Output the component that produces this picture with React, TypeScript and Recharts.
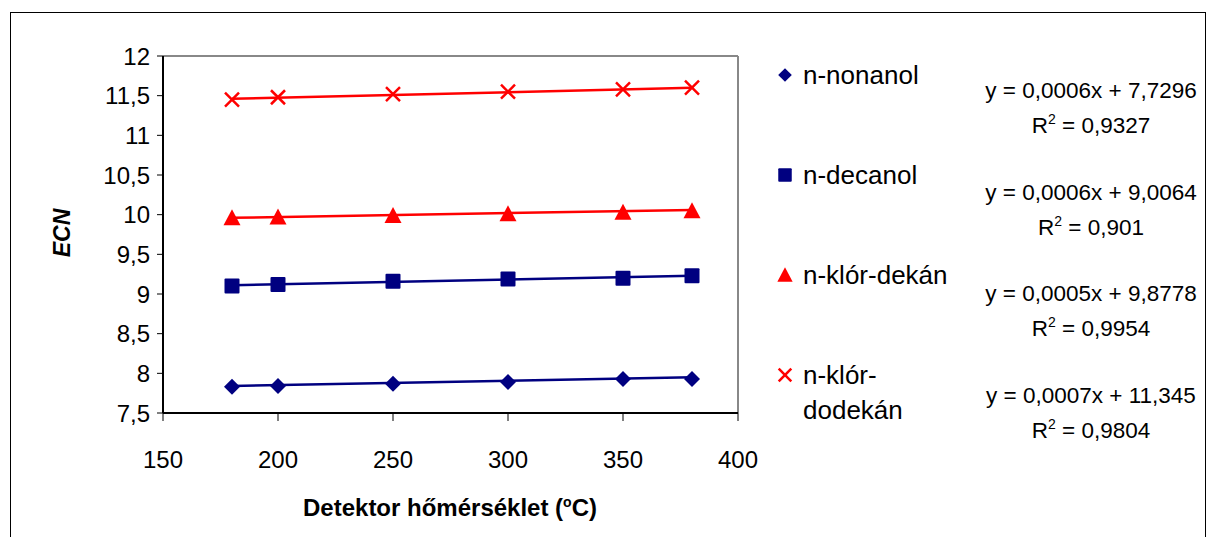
import {
  ComposedChart,
  Legend,
  Line,
  ReferenceLine,
  Scatter,
  XAxis,
  YAxis,
} from "recharts";

const temps = [180, 200, 250, 300, 350, 380];
const nonanol = [7.83, 7.84, 7.87, 7.89, 7.93, 7.93];
const decanol = [9.1, 9.12, 9.16, 9.19, 9.2, 9.23];
const klorDekan = [9.96, 9.97, 9.99, 10.01, 10.03, 10.05];
const klorDodekan = [11.45, 11.48, 11.52, 11.55, 11.58, 11.6];

// trendline ends
const trendX = [180, 380];
const nonanolTrend = [7.84, 7.95];
const decanolTrend = [9.11, 9.23];
const klorDekanTrend = [9.96, 10.06];
const klorDodekanTrend = [11.46, 11.6];

const xTicks = [150, 200, 250, 300, 350, 400];
const yTicks = [7.5, 8, 8.5, 9, 9.5, 10, 10.5, 11, 11.5, 12];

const equations = [
  { eq: "y = 0,0006x + 7,7296", r2: "0,9327" },
  { eq: "y = 0,0006x + 9,0064", r2: "0,901" },
  { eq: "y = 0,0005x + 9,8778", r2: "0,9954" },
  { eq: "y = 0,0007x + 11,345", r2: "0,9804" },
];

const NAVY = "#000080";
const RED = "#ff0000";
const FONT = "'Liberation Sans', Arial, sans-serif";

const pts = (ys: number[]) => temps.map((x, i) => ({ x, y: ys[i] }));
const trend = (ys: number[]) => trendX.map((x, i) => ({ x, y: ys[i] }));

type ShapeProps = { cx?: number; cy?: number; s?: number };

function Diamond({ cx = 0, cy = 0, s = 1 }: ShapeProps) {
  const r = 8 * s;
  return (
    <polygon
      points={`${cx},${cy - r} ${cx + r},${cy} ${cx},${cy + r} ${cx - r},${cy}`}
      fill={NAVY}
    />
  );
}

function Square({ cx = 0, cy = 0, s = 1 }: ShapeProps) {
  const h = 7.5 * s;
  return <rect x={cx - h} y={cy - h} width={2 * h} height={2 * h} fill={NAVY} rx={1} />;
}

function Triangle({ cx = 0, cy = 0, s = 1 }: ShapeProps) {
  return (
    <polygon
      points={`${cx},${cy - 8.5 * s} ${cx + 8.5 * s},${cy + 7.5 * s} ${cx - 8.5 * s},${cy + 7.5 * s}`}
      fill={RED}
    />
  );
}

function Cross({ cx = 0, cy = 0, s = 1 }: ShapeProps) {
  const r = 7 * s;
  return (
    <g stroke={RED} strokeWidth={2.5}>
      <line x1={cx - r} y1={cy - r} x2={cx + r} y2={cy + r} />
      <line x1={cx - r} y1={cy + r} x2={cx + r} y2={cy - r} />
    </g>
  );
}

const legendItems = [
  { label: ["n-nonanol"], icon: <Diamond cx={9} cy={9} s={0.85} /> },
  { label: ["n-decanol"], icon: <Square cx={9} cy={9} s={0.9} /> },
  { label: ["n-klór-dekán"], icon: <Triangle cx={9} cy={9} s={0.9} /> },
  { label: ["n-klór-", "dodekán"], icon: <Cross cx={9} cy={9} s={0.9} /> },
];

function LegendBox() {
  return (
    <div style={{ fontFamily: FONT, fontSize: 26, color: "#000" }}>
      {legendItems.map((it, i) => (
        <div key={i} style={{ display: "flex", height: 100, alignItems: "flex-start" }}>
          <svg width={18} height={18} style={{ marginTop: 8, marginRight: 9 }}>
            {it.icon}
          </svg>
          <div style={{ lineHeight: "35px" }}>
            {it.label.map((l) => (
              <div key={l}>{l}</div>
            ))}
          </div>
        </div>
      ))}
    </div>
  );
}

const supStyle = {
  fontSize: 14,
  position: "relative" as const,
  top: -9,
  lineHeight: 0,
};

export default function App() {
  return (
    <div
      style={{
        position: "absolute",
        left: 0,
        top: 0,
        width: 1211,
        height: 537,
        background: "#fff",
        overflow: "hidden",
        fontFamily: FONT,
      }}
    >
      <div
        style={{
          position: "absolute",
          left: 10,
          top: 12,
          width: 1194,
          height: 560,
          border: "1px solid #000",
        }}
      />
      <ComposedChart
        width={1211}
        height={537}
        margin={{ top: 56, right: 473, bottom: 94, left: 103 }}
        style={{ position: "absolute", left: 0, top: 0 }}
      >
        <XAxis
          type="number"
          dataKey="x"
          domain={[150, 400]}
          ticks={xTicks}
          height={30}
          tick={{ fontSize: 24, fill: "#000", fontFamily: FONT }}
          tickSize={8}
          tickMargin={30}
          axisLine={{ stroke: "#000", strokeWidth: 2 }}
          tickLine={{ stroke: "#000" }}
          allowDataOverflow
        />
        <YAxis
          type="number"
          dataKey="y"
          domain={[7.5, 12]}
          ticks={yTicks}
          width={60}
          tick={{ fontSize: 24, fill: "#000", fontFamily: FONT }}
          tickFormatter={(v: number) => String(v).replace(".", ",")}
          tickSize={6}
          tickMargin={7}
          axisLine={{ stroke: "#000", strokeWidth: 2 }}
          tickLine={{ stroke: "#000" }}
          allowDataOverflow
        />
        <ReferenceLine y={12} stroke="#888" strokeWidth={2} />
        <ReferenceLine x={400} stroke="#888" strokeWidth={2} />

        <Line data={trend(nonanolTrend)} dataKey="y" stroke={NAVY} strokeWidth={2.5} dot={false} legendType="none" isAnimationActive={false} />
        <Line data={trend(decanolTrend)} dataKey="y" stroke={NAVY} strokeWidth={2.5} dot={false} legendType="none" isAnimationActive={false} />
        <Line data={trend(klorDekanTrend)} dataKey="y" stroke={RED} strokeWidth={2.5} dot={false} legendType="none" isAnimationActive={false} />
        <Line data={trend(klorDodekanTrend)} dataKey="y" stroke={RED} strokeWidth={2.5} dot={false} legendType="none" isAnimationActive={false} />

        <Scatter name="n-nonanol" data={pts(nonanol)} shape={(p: ShapeProps) => <Diamond cx={p.cx} cy={p.cy} />} isAnimationActive={false} />
        <Scatter name="n-decanol" data={pts(decanol)} shape={(p: ShapeProps) => <Square cx={p.cx} cy={p.cy} />} isAnimationActive={false} />
        <Scatter name="n-klór-dekán" data={pts(klorDekan)} shape={(p: ShapeProps) => <Triangle cx={p.cx} cy={p.cy} />} isAnimationActive={false} />
        <Scatter name="n-klór-dodekán" data={pts(klorDodekan)} shape={(p: ShapeProps) => <Cross cx={p.cx} cy={p.cy} />} isAnimationActive={false} />

        <Legend
          layout="horizontal"
          verticalAlign="middle"
          align="center"
          content={() => <LegendBox />}
          wrapperStyle={{ position: "absolute", left: 776, top: 58, width: 200 }}
        />
      </ComposedChart>

      <div
        style={{
          position: "absolute",
          left: 62,
          top: 233,
          transform: "translate(-50%, -50%) rotate(-90deg)",
          fontWeight: "bold",
          fontStyle: "italic",
          fontSize: 23,
          whiteSpace: "nowrap",
        }}
      >
        ECN
      </div>
      <div
        style={{
          position: "absolute",
          left: 450,
          top: 508,
          transform: "translate(-50%, -50%)",
          fontWeight: "bold",
          fontSize: 24,
          whiteSpace: "nowrap",
        }}
      >
        Detektor hőmérséklet (<span style={supStyle}>o</span>C)
      </div>

      {equations.map((e, i) => (
        <div
          key={i}
          style={{
            position: "absolute",
            left: 981,
            top: 73 + i * 101.5,
            width: 220,
            textAlign: "center",
            fontSize: 22.5,
            lineHeight: "35px",
            whiteSpace: "nowrap",
          }}
        >
          <div>{e.eq}</div>
          <div>
            R<span style={supStyle}>2</span> = {e.r2}
          </div>
        </div>
      ))}
    </div>
  );
}
